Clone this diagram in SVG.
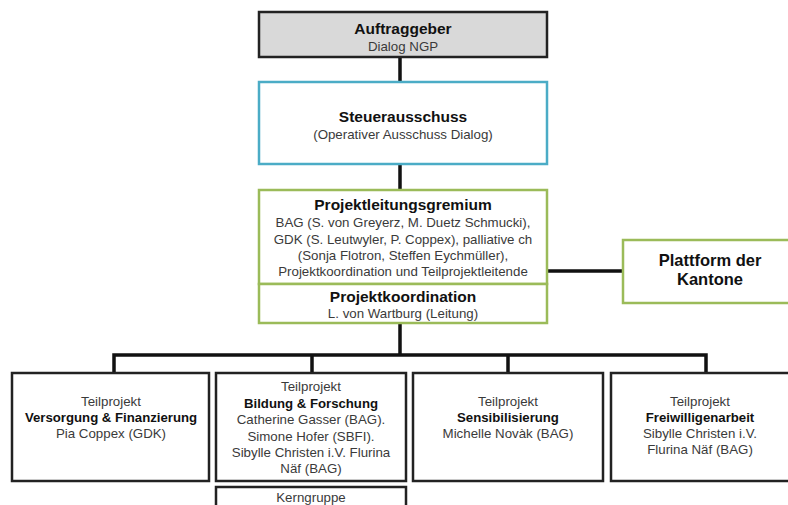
<svg xmlns="http://www.w3.org/2000/svg" width="788" height="505" viewBox="0 0 788 505">
<style>
text{font-family:"Liberation Sans",Arial,sans-serif;text-anchor:middle;fill:#3a3a3a;font-size:13.3px}
.b{font-weight:bold;fill:#111;font-size:15.5px}
.bs{font-weight:bold;fill:#111;font-size:13.2px}
.bp{font-weight:bold;fill:#111;font-size:16.5px}
.blk{fill:#fff;stroke:#222;stroke-width:2.5}
.grn{fill:#fff;stroke:#9bbb59;stroke-width:2.5}
.con{stroke:#111;stroke-width:3.5;fill:none}
</style>
<rect width="788" height="505" fill="#fff"/>
<g id="connectors">
<path class="con" d="M400 57V82M400 164V190M400 323V355M114 373V355H706V373M312 355V373M508 355V373M547 271H623"/>
</g>
<g id="auftraggeber">
<rect x="259" y="12" width="288" height="45" fill="#d9d9d9" stroke="#222" stroke-width="2.5"/>
<text class="b" x="403" y="34">Auftraggeber</text>
<text x="403" y="51">Dialog NGP</text>
</g>
<g id="steuerausschuss">
<rect x="259" y="82" width="288" height="82" fill="#fff" stroke="#4bacc6" stroke-width="2.5"/>
<text class="b" x="403" y="122">Steuerausschuss</text>
<text x="403" y="139">(Operativer Ausschuss Dialog)</text>
</g>
<g id="projektleitung">
<rect class="grn" x="259" y="190" width="288" height="94"/>
<text class="b" x="403" y="210">Projektleitungsgremium</text>
<text x="403" y="227">BAG (S. von Greyerz, M. Duetz Schmucki),</text>
<text x="403" y="244">GDK (S. Leutwyler, P. Coppex), palliative ch</text>
<text x="403" y="260">(Sonja Flotron, Steffen Eychmüller),</text>
<text x="403" y="276">Projektkoordination und Teilprojektleitende</text>
</g>
<g id="projektkoordination">
<rect class="grn" x="259" y="284" width="288" height="39"/>
<text class="b" x="403" y="302">Projektkoordination</text>
<text x="403" y="318">L. von Wartburg (Leitung)</text>
</g>
<g id="plattform">
<rect class="grn" x="623" y="240" width="170" height="63"/>
<text class="bp" x="710" y="266">Plattform der</text>
<text class="bp" x="710" y="285">Kantone</text>
</g>
<g id="tp1">
<rect class="blk" x="12" y="373" width="197" height="108"/>
<text x="111" y="406">Teilprojekt</text>
<text class="bs" x="111" y="422">Versorgung &amp; Finanzierung</text>
<text x="111" y="438">Pia Coppex (GDK)</text>
</g>
<g id="tp2">
<rect class="blk" x="216" y="373" width="190" height="108"/>
<text x="311" y="391">Teilprojekt</text>
<text class="bs" x="311" y="408">Bildung &amp; Forschung</text>
<text x="311" y="424">Catherine Gasser (BAG).</text>
<text x="311" y="441">Simone Hofer (SBFI).</text>
<text x="311" y="457">Sibylle Christen i.V. Flurina</text>
<text x="311" y="473">Näf (BAG)</text>
</g>
<g id="kerngruppe">
<rect class="blk" x="216" y="487" width="190" height="30"/>
<text x="311" y="502">Kerngruppe</text>
</g>
<g id="tp3">
<rect class="blk" x="413" y="373" width="190" height="108"/>
<text x="508" y="406">Teilprojekt</text>
<text class="bs" x="508" y="422">Sensibilisierung</text>
<text x="508" y="438">Michelle Novàk (BAG)</text>
</g>
<g id="tp4">
<rect class="blk" x="611" y="373" width="182" height="108"/>
<text x="700" y="406">Teilprojekt</text>
<text class="bs" x="700" y="422">Freiwilligenarbeit</text>
<text x="700" y="438">Sibylle Christen i.V.</text>
<text x="700" y="454">Flurina Näf (BAG)</text>
</g>
</svg>
